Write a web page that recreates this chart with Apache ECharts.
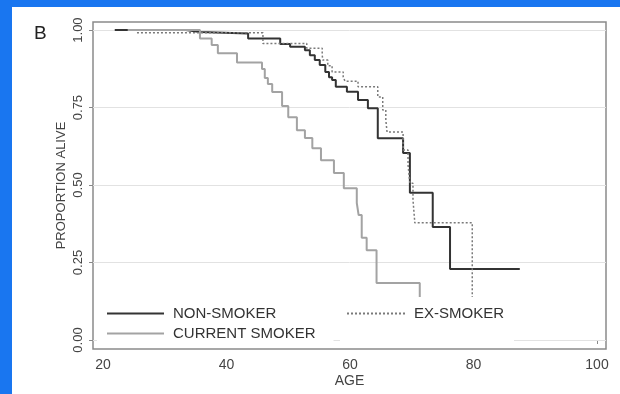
<!DOCTYPE html>
<html>
<head>
<meta charset="utf-8">
<script src="https://cdn.jsdelivr.net/npm/echarts/dist/echarts.min.js"></script>
<style>
  html, body { margin: 0; padding: 0; width: 620px; height: 394px; background: #1976f0; overflow: hidden; }
  #chart { position: absolute; left: 12px; top: 7px; width: 608px; height: 387px; background: #fff; }
</style>
</head>
<body>
<div id="chart"></div>
<script>
// Kaplan-Meier survival by smoking status (age as time scale)
const nonSmokerAge  = [21.9, 33.4, 35.7, 43.5, 48.7, 50.3, 52.7, 53.5, 54.3, 55.1, 56.0, 56.6, 57.1, 57.7, 59.5, 61.3, 62.9, 64.5, 68.6, 69.7, 73.4, 76.2, 87.5];
const nonSmokerSurv = [1.0, 0.994, 0.989, 0.973, 0.955, 0.946, 0.935, 0.919, 0.903, 0.887, 0.865, 0.848, 0.839, 0.817, 0.801, 0.774, 0.748, 0.651, 0.603, 0.475, 0.365, 0.229, 0.229];

const exSmokerAge  = [25.5, 45.9, 53.0, 55.5, 55.6, 56.4, 57.1, 58.9, 59.2, 61.3, 64.5, 65.3, 65.8, 66.0, 68.6, 69.4, 69.7, 70.2, 70.5, 79.8];
const exSmokerSurv = [0.991, 0.957, 0.941, 0.919, 0.903, 0.885, 0.865, 0.848, 0.835, 0.817, 0.784, 0.742, 0.71, 0.671, 0.613, 0.565, 0.506, 0.452, 0.378, 0];

const currentAge  = [24.0, 35.7, 37.6, 38.6, 41.7, 45.75, 46.2, 46.7, 47.4, 49.0, 50.0, 51.4, 52.7, 53.9, 55.3, 57.4, 59.0, 61.1, 61.4, 61.9, 62.7, 64.3, 71.3];
const currentSurv = [1.0, 0.973, 0.952, 0.925, 0.895, 0.874, 0.845, 0.826, 0.80, 0.755, 0.719, 0.677, 0.652, 0.619, 0.58, 0.539, 0.49, 0.442, 0.403, 0.33, 0.29, 0.184, 0];

const ageTicks  = [20, 40, 60, 80, 100];
const survTicks = [0, 0.25, 0.5, 0.75, 1];

const FONT = '"Liberation Sans", Arial, Helvetica, sans-serif';
const pairs = (xs, ys) => xs.map((x, i) => [x, ys[i]]);

const chart = echarts.init(document.getElementById('chart'), null, { renderer: 'canvas' });

const legendCommon = {
  orient: 'vertical', itemHeight: 14, itemGap: 5,
  backgroundColor: '#fff', selectedMode: false,
  itemStyle: { opacity: 0 }
};

chart.setOption({
  animation: false,
  backgroundColor: '#fff',
  title: {
    text: 'B', left: 17, top: 12,
    textStyle: { fontFamily: FONT, fontSize: 19, fontWeight: 'normal', color: '#222' }
  },
  grid: {
    left: 81, top: 15, right: 14, bottom: 45,
    show: true, borderColor: '#8a8a8a', borderWidth: 1.5, backgroundColor: 'transparent'
  },
  xAxis: {
    type: 'value', min: 18.38, max: 101.46,
    name: 'AGE', nameLocation: 'middle', nameGap: 25, nameMoveOverlap: false,
    nameTextStyle: { fontFamily: FONT, fontSize: 14, color: '#444' },
    axisLine: { show: false },
    axisTick: { show: true, length: 4, customValues: ageTicks, lineStyle: { color: '#888' } },
    axisLabel: { customValues: ageTicks, fontFamily: FONT, fontSize: 14, color: '#444', margin: 9 },
    splitLine: { show: false }
  },
  yAxis: {
    type: 'value', min: -0.029, max: 1.026,
    name: 'PROPORTION ALIVE', nameLocation: 'middle', nameGap: 25, nameRotate: 90, nameMoveOverlap: false,
    nameTextStyle: { fontFamily: FONT, fontSize: 13, color: '#444' },
    axisLine: { show: false },
    axisTick: { show: true, length: 4, customValues: survTicks, lineStyle: { color: '#888' } },
    axisLabel: {
      customValues: survTicks, rotate: 90, fontFamily: FONT, fontSize: 13, color: '#444', margin: 8,
      formatter: v => Number(v).toFixed(2)
    },
    splitLine: { show: false }
  },
  legend: [
    Object.assign({}, legendCommon, {
      data: ['NON-SMOKER', 'CURRENT SMOKER'],
      left: 85, top: 290, padding: [9, 18, 6, 9], itemWidth: 57,
      textStyle: { fontFamily: FONT, fontSize: 15, color: '#333', padding: [0, 0, 0, 4] }
    }),
    Object.assign({}, legendCommon, {
      data: ['EX-SMOKER'],
      left: 328, top: 290, padding: [9, 10, 25, 6], itemWidth: 59,
      textStyle: { fontFamily: FONT, fontSize: 15, color: '#333', padding: [0, 0, 0, 3] }
    })
  ],
  series: [
    {
      // reference lines at the labelled survival levels
      type: 'line', data: [], z: 1, silent: true,
      markLine: {
        silent: true, symbol: ['none', 'none'], z: 1,
        label: { show: false },
        lineStyle: { color: '#e2e2e2', width: 1, type: 'solid' },
        data: survTicks.map(v => ({ yAxis: v }))
      }
    },
    {
      name: 'NON-SMOKER', type: 'line', step: 'end', symbol: 'none',
      data: pairs(nonSmokerAge, nonSmokerSurv),
      lineStyle: { color: '#333', width: 2 }, itemStyle: { color: '#333' }, z: 2
    },
    {
      name: 'EX-SMOKER', type: 'line', step: 'end', symbol: 'none',
      data: pairs(exSmokerAge, exSmokerSurv),
      lineStyle: { color: '#7a7a7a', width: 1.5, type: [2, 2] }, itemStyle: { color: '#7a7a7a' }, z: 2
    },
    {
      name: 'CURRENT SMOKER', type: 'line', step: 'end', symbol: 'none',
      data: pairs(currentAge, currentSurv),
      lineStyle: { color: '#a3a3a3', width: 2 }, itemStyle: { color: '#a3a3a3' }, z: 2
    }
  ]
});
</script>
</body>
</html>
